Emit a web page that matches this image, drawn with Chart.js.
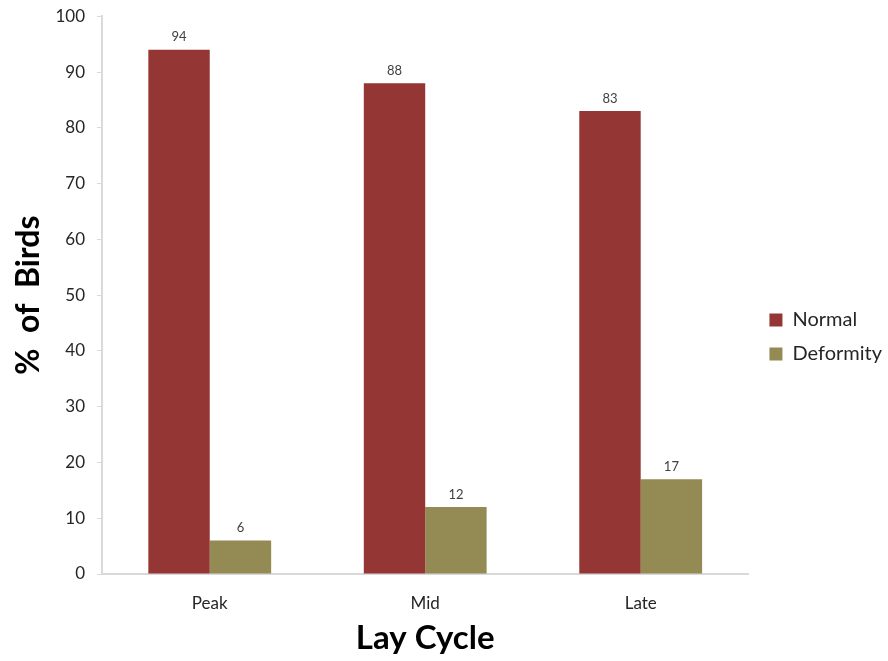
<!DOCTYPE html>
<html>
<head>
<meta charset="utf-8">
<script src="https://cdn.jsdelivr.net/npm/chart.js@4/dist/chart.umd.min.js"></script>
<style>
  html, body { margin: 0; padding: 0; background: #ffffff; }
  #wrap { width: 888px; height: 661px; }
</style>
</head>
<body>
<div id="wrap"><canvas id="c" width="888" height="661"></canvas></div>
<script>
// Lay cycle stages and share of birds (%) in each group
const categories = ['Peak', 'Mid', 'Late'];
const normalValues = [94, 88, 83];
const deformityValues = [6, 12, 17];
const seriesNames = ['Normal', 'Deformity'];
const yTicks = [0, 10, 20, 30, 40, 50, 60, 70, 80, 90, 100];

const FONT = 'Lato, "Open Sans", sans-serif';

// Writes each bar's value just above it
const valueLabels = {
  id: 'valueLabels',
  afterDatasetsDraw(chart) {
    const ctx = chart.ctx;
    ctx.save();
    ctx.font = '13px ' + FONT;
    ctx.fillStyle = '#404040';
    ctx.textAlign = 'center';
    ctx.textBaseline = 'bottom';
    chart.data.datasets.forEach((ds, i) => {
      chart.getDatasetMeta(i).data.forEach((bar, j) => {
        ctx.fillText(String(ds.data[j]), bar.x, bar.y - 6);
      });
    });
    ctx.restore();
  }
};

// Nudges the legend block a little right and down from its default slot
const legendNudge = {
  id: 'legendNudge',
  afterLayout(chart) {
    const lg = chart.legend;
    if (!lg) return;
    lg.left += 7; lg.right += 7;
    lg.top += 8; lg.bottom += 8;
  }
};

new Chart(document.getElementById('c'), {
  type: 'bar',
  data: {
    labels: categories,
    datasets: [
      { label: seriesNames[0], data: normalValues, backgroundColor: '#943634', borderWidth: 0 },
      { label: seriesNames[1], data: deformityValues, backgroundColor: '#948A54', borderWidth: 0 }
    ]
  },
  options: {
    responsive: false,
    animation: false,
    devicePixelRatio: 1,
    layout: { padding: { top: 0, right: 3, bottom: 3, left: 9 } },
    datasets: { bar: { categoryPercentage: 0.57, barPercentage: 1.0 } },
    plugins: {
      legend: {
        position: 'right',
        align: 'center',
        labels: {
          boxWidth: 13,
          boxHeight: 13,
          padding: 14,
          color: '#262626',
          font: { family: FONT, size: 20 }
        }
      },
      tooltip: { enabled: false }
    },
    scales: {
      x: {
        afterFit(scale) { scale.height = 84; },
        grid: { display: false, drawTicks: false },
        border: { color: '#d9d9d9', width: 2 },
        ticks: { color: '#262626', font: { family: FONT, size: 17 }, padding: 19 },
        title: {
          display: true,
          text: 'Lay Cycle',
          color: '#000000',
          font: { family: FONT, size: 33, weight: 'bold' },
          padding: { top: 0, bottom: 0 }
        }
      },
      y: {
        min: 0,
        max: 100,
        afterBuildTicks(axis) { axis.ticks = yTicks.map(v => ({ value: v })); },
        afterFit(scale) { scale.width = 93; },
        grid: { drawOnChartArea: false, drawTicks: true, tickLength: 5, color: '#d9d9d9', lineWidth: 1 },
        border: { color: '#d9d9d9', width: 2 },
        ticks: { color: '#262626', font: { family: FONT, size: 17, lineHeight: 0.5 }, padding: 12 },
        title: {
          display: true,
          text: '%  of  Birds',
          color: '#000000',
          font: { family: FONT, size: 32, weight: 'bold' },
          padding: { top: 0, bottom: 0 }
        }
      }
    }
  },
  plugins: [valueLabels, legendNudge]
});
</script>
</body>
</html>
